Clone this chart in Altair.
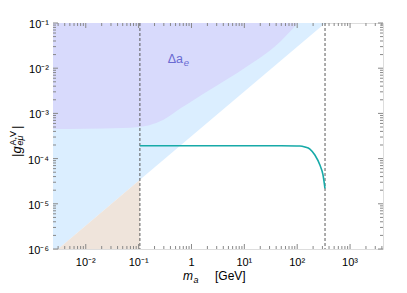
import altair as alt
import pandas as pd

# ---------------- axes ----------------
x_domain = [0.0024, 4200]
y_domain = [1e-6, 0.1]
x_major = [0.01, 0.1, 1, 10, 100, 1000]
x_labels = ["10\u207b\u00b2", "10\u207b\u00b9", "1", "10\u00b9", "10\u00b2", "10\u00b3"]
y_major = [1e-6, 1e-5, 1e-4, 1e-3, 1e-2, 1e-1]
y_labels = ["10\u207b\u2076", "10\u207b\u2075", "10\u207b\u2074", "10\u207b\u00b3", "10\u207b\u00b2", "10\u207b\u00b9"]
x_minor = [d * 10.0 ** k for k in range(-3, 4) for d in range(2, 10)
           if x_domain[0] <= d * 10.0 ** k <= x_domain[1]]
y_minor = [d * 10.0 ** k for k in range(-6, -1) for d in range(2, 10)]

# ---------------- data ----------------
# Delta a_e excluded region (lower boundary)
ae_m = [0.0024, 0.01, 0.05, 0.1, 0.16, 0.29, 0.6, 1.26, 2.5, 11, 47, 103]
ae_g = [4.5e-4, 4.6e-4, 4.75e-4, 5.0e-4, 5.5e-4, 7.1e-4, 1.26e-3, 2.2e-3, 3.6e-3, 1.07e-2, 3.8e-2, 0.1]
# diagonal boundary of the light-blue region
diag_m = [0.0024, 0.1057, 340]
diag_g = [8.0e-7, 3.4e-5, 0.1]
# vertical dashed lines
vline_m = [0.1057, 336]
# teal curve
curve_m = [0.1057, 1, 10, 50, 112, 140, 174, 216, 269, 307, 335]
curve_g = [1.93e-4, 1.93e-4, 1.93e-4, 1.92e-4, 1.9e-4, 1.81e-4, 1.63e-4, 1.2e-4, 7.2e-5, 4.4e-5, 2.2e-5]
# label position of Delta a_e
lab_m = [0.356]
lab_g = [0.013]

W, H = 330, 226
TICK = "#888888"
FONT = "Liberation Sans"

xs = alt.Scale(type="log", domain=x_domain)
ys = alt.Scale(type="log", domain=y_domain)


def X(f):
    return alt.X(f, type="quantitative", scale=xs, axis=None)


def Y(f):
    return alt.Y(f, type="quantitative", scale=ys, axis=None)


# light blue region above the diagonal
df_diag = pd.DataFrame({"m": diag_m, "g": diag_g})
df_diag["top"] = y_domain[1]
df_diag["bot"] = y_domain[0] * 0.5
blue = alt.Chart(df_diag).mark_area(color="#dbeeff", opacity=1, clip=True).encode(
    x=X("m"), y=Y("g"), y2="top:Q")
beige = alt.Chart(df_diag.iloc[:2]).mark_area(color="#efe4db", opacity=1, clip=True).encode(
    x=X("m"), y=Y("bot"), y2="g:Q")

df_ae = pd.DataFrame({"m": ae_m, "g": ae_g})
df_ae["top"] = y_domain[1]
purple = alt.Chart(df_ae).mark_area(color="#d8dafc", opacity=1, clip=True,
                                    interpolate="monotone").encode(
    x=X("m"), y=Y("g"), y2="top:Q")

vlines = alt.Chart(pd.DataFrame({"m": vline_m})).mark_rule(
    color="#5a5a5a", strokeDash=[3, 2], strokeWidth=1).encode(x=X("m"))

curve = alt.Chart(pd.DataFrame({"m": curve_m, "g": curve_g})).mark_line(
    color="#17aaa8", strokeWidth=1.6, interpolate="monotone", clip=True).encode(
    x=X("m"), y=Y("g"))

df_lab = pd.DataFrame({"m": lab_m, "g": lab_g})
lab1 = alt.Chart(df_lab).mark_text(text="\u0394a", font=FONT, fontSize=12.5, color="#6a6ad2",
                                   align="left", baseline="alphabetic").encode(
    x=X("m"), y=Y("g"))
lab2 = alt.Chart(df_lab).mark_text(text="e", font=FONT, fontSize=9.5, fontStyle="italic",
                                   color="#6a6ad2", align="left", baseline="alphabetic",
                                   dx=16, dy=3).encode(x=X("m"), y=Y("g"))

# tick labels
xlab = alt.Chart(pd.DataFrame({"v": x_major, "t": x_labels})).mark_text(
    font=FONT, fontSize=11, color="black", align="center", baseline="alphabetic").encode(
    x=X("v"), y=alt.value(H + 17), text="t:N")
ylab = alt.Chart(pd.DataFrame({"v": y_major, "t": y_labels})).mark_text(
    font=FONT, fontSize=11, color="black", align="right", baseline="alphabetic", dy=5).encode(
    y=Y("v"), x=alt.value(-4), text="t:N")


def tick_layer(vals, side, length):
    df = pd.DataFrame({"v": vals})
    ch = alt.Chart(df).mark_rule(color=TICK, strokeWidth=1)
    if side in ("bottom", "top"):
        y0 = H if side == "bottom" else 0
        y1 = H - length if side == "bottom" else length
        return ch.encode(x=X("v"), y=alt.value(y0), y2=alt.value(y1))
    x0 = 0 if side == "left" else W
    x1 = length if side == "left" else W - length
    return ch.encode(y=Y("v"), x=alt.value(x0), x2=alt.value(x1))


ticks = []
for side in ("bottom", "top"):
    ticks.append(tick_layer(x_major, side, 5))
    ticks.append(tick_layer(x_minor, side, 3))
for side in ("left", "right"):
    ticks.append(tick_layer(y_major, side, 5))
    ticks.append(tick_layer(y_minor, side, 3))

one = pd.DataFrame({"k": [0]})


def txt(s, x, y, size, style="normal", angle=0):
    return alt.Chart(one).mark_text(text=s, font=FONT, fontSize=size, fontStyle=style,
                                    color="black", align="left", baseline="alphabetic",
                                    angle=angle).encode(x=alt.value(x), y=alt.value(y))


titles = [
    # x title: m_a [GeV]
    txt("m", 130, 257, 12, "italic"),
    txt("a", 140.5, 259.5, 9, "italic"),
    txt("[GeV]", 162, 257, 12),
    # y title: |g^{A,V}_{e mu}|
    txt("|", -32.5, 134, 13, angle=270),
    txt("g", -32.5, 130.4, 13, "italic", angle=270),
    txt("A,V", -37.5, 122.5, 9, angle=270),
    txt("e\u03bc", -30, 122.5, 9, "italic", angle=270),
    txt("|", -32.5, 106, 13, angle=270),
]

chart = alt.layer(blue, beige, purple, vlines, curve, lab1, lab2, xlab, ylab,
                  *ticks, *titles).properties(
    width=W, height=H,
    autosize=alt.AutoSizeParams(type="none"),
    padding={"left": 45, "top": 15, "right": 16, "bottom": 36},
).configure_view(stroke=TICK, strokeWidth=1).configure(background="white")

chart.save("out.html", embed_options={"renderer": "svg", "actions": False})
